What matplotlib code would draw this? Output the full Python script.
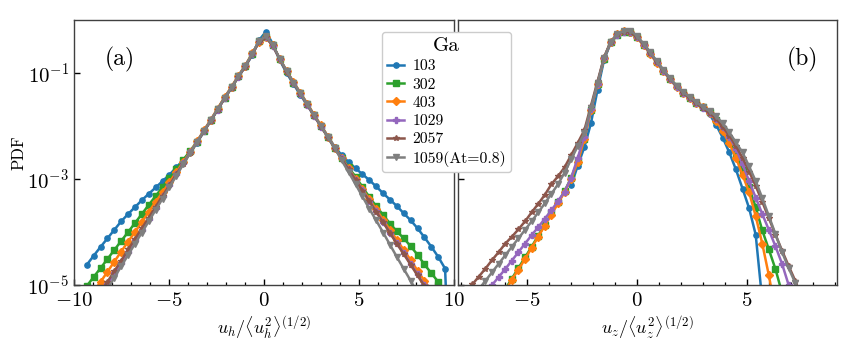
import numpy as np
import matplotlib
matplotlib.use("Agg")
import matplotlib.pyplot as plt
from matplotlib.ticker import FixedLocator, MultipleLocator, NullLocator, LogFormatterSciNotation

plt.rcParams['font.family'] = 'serif'
plt.rcParams['font.serif'] = ['cmr10']
plt.rcParams['mathtext.fontset'] = 'cm'
plt.rcParams['axes.formatter.use_mathtext'] = True
plt.rcParams['axes.unicode_minus'] = True

N = np.nan

LABELS = ['103', '302', '403', '1029', '2057', '1059(At=0.8)']
COLORS = ['#1f77b4', '#2ca02c', '#ff7f0e', '#9467bd', '#8c564b', '#7f7f7f']
MARKERS = ['o', 's', 'D', 'P', '*', 'v']

# panel (a): bin centres of u_h / <u_h^2>^(1/2)
XA = [-9.33, -8.97, -8.60, -8.24, -7.88, -7.52, -7.15, -6.79, -6.43, -6.07,
      -5.70, -5.34, -4.98, -4.61, -4.25, -3.89, -3.53, -3.16, -2.80, -2.44,
      -2.08, -1.71, -1.35, -0.99, -0.62, -0.26, 0.10, 0.46, 0.83, 1.19,
      1.55, 1.91, 2.28, 2.64, 3.00, 3.37, 3.73, 4.09, 4.45, 4.82,
      5.18, 5.54, 5.90, 6.27, 6.63, 6.99, 7.36, 7.72, 8.08, 8.44,
      8.81, 9.17, 9.53, 9.89]

# log10(PDF) values, panel (a)
A_103 = [-4.62, -4.45, -4.28, -4.12, -3.96, -3.80, -3.66, -3.53, -3.40, -3.28, -3.16, -3.04, -2.92, -2.78, -2.64, -2.50, -2.32,
         -2.10, -1.90, -1.69, -1.48, -1.28, -1.07, -0.88,
         -0.66, -0.38, -0.22, -0.45, -0.76, -1.00, -1.21, -1.41, -1.61, -1.81, -2.00, -2.20, -2.40,
         -2.55, -2.68, -2.80, -2.91, -3.02, -3.14, -3.27, -3.39, -3.51, -3.65, -3.78, -3.93, -4.10, -4.28, -4.47, -4.69, -8.0]
A_302 = [-5.02, -4.85, -4.68, -4.51, -4.34, -4.17, -4.00, -3.83, -3.66, -3.49, -3.32, -3.15, -2.98, -2.81, -2.64, -2.47,
         -2.30, -2.09, -1.89, -1.68, -1.47, -1.27, -1.06, -0.87, -0.64, -0.40, -0.32, -0.48, -0.74, -0.97, -1.18, -1.38, -1.59, -1.80, -2.00, -2.21, -2.42,
         -2.60, -2.78, -2.96, -3.15, -3.34, -3.51, -3.68, -3.84, -3.99, -4.12, -4.27, -4.43, -4.61, -4.78, -4.94, -5.12,
         N]
A_403 = [N, -5.13, -4.94, -4.75, -4.56, -4.37, -4.18, -4.00, -3.81, -3.62, -3.43, -3.25, -3.06, -2.87, -2.68, -2.49,
         -2.29, -2.08, -1.88, -1.67, -1.46, -1.26, -1.05, -0.86, -0.63, -0.41, -0.33, -0.48, -0.73, -0.96, -1.17, -1.37, -1.58, -1.79, -1.99, -2.20, -2.41,
         -2.61, -2.80, -3.00, -3.19, -3.38, -3.57, -3.77, -3.96, -4.15, -4.34, -4.53, -4.73, -4.92, -5.11,
         N, N, N]
A_1029 = [N, N, -5.20, -4.99, -4.78, -4.58, -4.37, -4.16, -3.96, -3.75, -3.54, -3.33, -3.12, -2.91, -2.70, -2.50,
          -2.30, -2.10, -1.89, -1.69, -1.48, -1.27, -1.07, -0.87, -0.65, -0.40, -0.32, -0.49, -0.74, -0.97, -1.18, -1.39, -1.60, -1.81, -2.01, -2.21, -2.42,
          -2.61, -2.81, -3.01, -3.21, -3.41, -3.61, -3.81, -4.01, -4.21, -4.40, -4.60, -4.80, -5.00, -5.20,
          N, N, N]
A_2057 = [N, N, -5.15, -4.94, -4.74, -4.54, -4.33, -4.13, -3.93, -3.73, -3.52, -3.32, -3.12, -2.91, -2.71, -2.51,
          -2.31, -2.10, -1.90, -1.69, -1.48, -1.28, -1.07, -0.88, -0.65, -0.41, -0.33, -0.48, -0.74, -0.98, -1.19, -1.39, -1.60, -1.81, -2.01, -2.22, -2.43,
          -2.62, -2.82, -3.02, -3.22, -3.42, -3.62, -3.82, -4.02, -4.22, -4.42, -4.62, -4.82, -5.02, -5.22,
          N, N, N]
A_1059 = [N, N, N, -5.08, -4.86, -4.65, -4.43, -4.22, -4.01, -3.80, -3.58, -3.37, -3.15, -2.94, -2.72, -2.51,
          -2.30, -2.09, -1.89, -1.68, -1.47, -1.27, -1.06, -0.86, -0.64, -0.39, -0.31, -0.47, -0.73, -0.96, -1.18, -1.38, -1.59, -1.80, -2.00, -2.21, -2.42,
          -2.65, -2.87, -3.10, -3.33, -3.56, -3.78, -4.01, -4.24, -4.47, -4.70, -4.92, -5.15,
          N, N, N, N, N]

# panel (b): bin centres of u_z / <u_z^2>^(1/2)
XB = [-7.5, -7.2, -6.9, -6.6, -6.3, -6.0, -5.7, -5.4, -5.1, -4.8,
      -4.5, -4.2, -3.9, -3.6, -3.3, -3.0, -2.7, -2.4, -2.1, -1.8,
      -1.5, -1.2, -0.9, -0.6, -0.3, 0.0, 0.3, 0.6, 0.9, 1.2,
      1.5, 1.8, 2.1, 2.4, 2.7, 3.0, 3.3, 3.6, 3.9, 4.2,
      4.5, 4.8, 5.1, 5.4, 5.7, 6.0, 6.3, 6.6, 6.9, 7.2, 7.5]

B_103 = [N] * 15 + [-3.12, -2.75, -2.40, -1.95, -1.32, -0.75, -0.43, -0.28, -0.23, -0.24, -0.33, -0.47, -0.62, -0.79, -0.95,
                    -1.11, -1.25, -1.37, -1.48, -1.57, -1.66, -1.78, -1.98, -2.22, -2.50, -2.82, -3.18, -3.55, -4.05, -5.30] + [N] * 6
B_302 = [N] * 5 + [-5.08, -4.88, -4.68, -4.48, -4.28, -4.07, -3.86, -3.65, -3.44, -3.23, -2.98, -2.66,
                   -2.24, -1.70, -1.21, -0.73, -0.42, -0.28, -0.22, -0.22, -0.32, -0.47, -0.63, -0.80, -0.96, -1.12, -1.25, -1.37, -1.47, -1.56, -1.65, -1.74,
                   -1.88, -2.06, -2.28, -2.53, -2.83, -3.16, -3.53, -3.97, -4.33, -4.70, -5.15] + [N] * 3
B_403 = [N] * 5 + [-5.12, -4.90, -4.71, -4.51, -4.30, -4.09, -3.88, -3.67, -3.46, -3.25, -3.00, -2.68,
                   -2.25, -1.70, -1.20, -0.72, -0.41, -0.27, -0.21, -0.22, -0.33, -0.48, -0.64, -0.81, -0.97, -1.12, -1.26, -1.38, -1.48, -1.56, -1.65, -1.75,
                   -1.90, -2.10, -2.33, -2.60, -2.92, -3.25, -3.70, -4.22, -4.82, -5.50] + [N] * 4
B_1029 = [N] * 2 + [-5.18, -5.00, -4.85, -4.70, -4.54, -4.38, -4.22, -4.06, -3.91, -3.75, -3.59, -3.42, -3.24, -2.98, -2.60,
                    -2.20, -1.68, -1.20, -0.72, -0.42, -0.28, -0.22, -0.22, -0.32, -0.47, -0.63, -0.80, -0.96, -1.12, -1.26, -1.38, -1.48, -1.57, -1.66, -1.75,
                    -1.86, -2.02, -2.20, -2.43, -2.72, -3.04, -3.35, -3.66, -3.96, -4.27, -4.60, -5.00, -5.40] + [N]
B_2057 = [-4.99, -4.84, -4.69, -4.53, -4.38, -4.22, -4.09, -3.95, -3.80, -3.63, -3.47, -3.30, -3.10, -2.95, -2.78, -2.55, -2.32,
          -2.08, -1.62, -1.16, -0.70, -0.41, -0.27, -0.22, -0.23, -0.32, -0.46, -0.62, -0.79, -0.95, -1.11, -1.25, -1.37, -1.48, -1.57, -1.66, -1.76,
          -1.86, -2.02, -2.18, -2.38, -2.60, -2.86, -3.13, -3.43, -3.74, -4.05, -4.35, -4.64, -4.92, -5.25]
B_1059 = [N] + [-5.08, -4.92, -4.76, -4.60, -4.44, -4.28, -4.12, -3.96, -3.80, -3.63, -3.46, -3.28, -3.10, -2.88, -2.63, -2.38,
                -2.14, -1.66, -1.19, -0.71, -0.41, -0.27, -0.21, -0.20, -0.30, -0.45, -0.61, -0.78, -0.94, -1.10, -1.24, -1.36, -1.46, -1.55, -1.64, -1.72,
                -1.82, -1.95, -2.12, -2.31, -2.50, -2.76, -3.04, -3.36, -3.70, -4.04, -4.38, -4.68, -4.96, -5.30]

SER_A = [A_103, A_302, A_403, A_1029, A_2057, A_1059]
SER_B = [B_103, B_302, B_403, B_1029, B_2057, B_1059]

fig = plt.figure(figsize=(8.48, 3.46), dpi=100)
axa = fig.add_axes([0.0873, 0.1763, 0.4481, 0.7659])
axb = fig.add_axes([0.5401, 0.1763, 0.4469, 0.7659], sharey=axa)

handles = []
for ax, xs, sers in ((axa, XA, SER_A), (axb, XB, SER_B)):
    for vals, c, m, lab in zip(sers, COLORS, MARKERS, LABELS):
        y = 10.0 ** np.asarray(vals, dtype=float)
        h, = ax.plot(xs, y, color=c, marker=m, markersize=3.8, lw=1.8, label=lab)
        if ax is axa:
            handles.append(h)

axa.set_yscale('log')
axa.set_ylim(1e-5, 1.0)
axa.set_xlim(-10, 10)
axb.set_xlim(-8.15, 9.1)

for ax in (axa, axb):
    ax.yaxis.set_major_locator(FixedLocator([1e-5, 1e-3, 1e-1]))
    ax.yaxis.set_minor_locator(NullLocator())
    ax.yaxis.set_major_formatter(LogFormatterSciNotation())
    ax.xaxis.set_major_locator(MultipleLocator(5))
    ax.xaxis.set_minor_locator(MultipleLocator(1))
    ax.tick_params(which='both', direction='in', top=False, right=False, labelsize=15, color='black')
    ax.tick_params(which='major', length=4.5, width=1.0)
    ax.tick_params(which='minor', length=2.5, width=0.9)
    ax.tick_params(axis='x', which='major', pad=5)
    for s in ax.spines.values():
        s.set_color('0.25')
        s.set_linewidth(1.0)
axb.tick_params(labelleft=False)

axa.set_ylabel('PDF', fontsize=12)
axa.yaxis.set_label_coords(-0.125, 0.5)
axa.set_xlabel(r'$u_h/\langle u_h^2\rangle^{(1/2)}$', fontsize=13)
axb.set_xlabel(r'$u_z/\langle u_z^2\rangle^{(1/2)}$', fontsize=13)
axa.xaxis.set_label_coords(0.5, -0.11)
axb.xaxis.set_label_coords(0.5, -0.11)

axa.text(0.12, 0.85, '(a)', transform=axa.transAxes, fontsize=17, ha='center', va='center')
axb.text(0.908, 0.85, '(b)', transform=axb.transAxes, fontsize=17, ha='center', va='center')

leg = fig.legend(handles=handles, labels=LABELS, title='Ga', loc='upper left',
                 bbox_to_anchor=(0.450, 0.908), borderaxespad=0.0,
                 fontsize=11.3, title_fontsize=15,
                 handlelength=1.1, handletextpad=0.5, labelspacing=0.27,
                 borderpad=0.35, framealpha=1.0, edgecolor='0.8', fancybox=True)

fig.savefig('out.png', dpi=100)
